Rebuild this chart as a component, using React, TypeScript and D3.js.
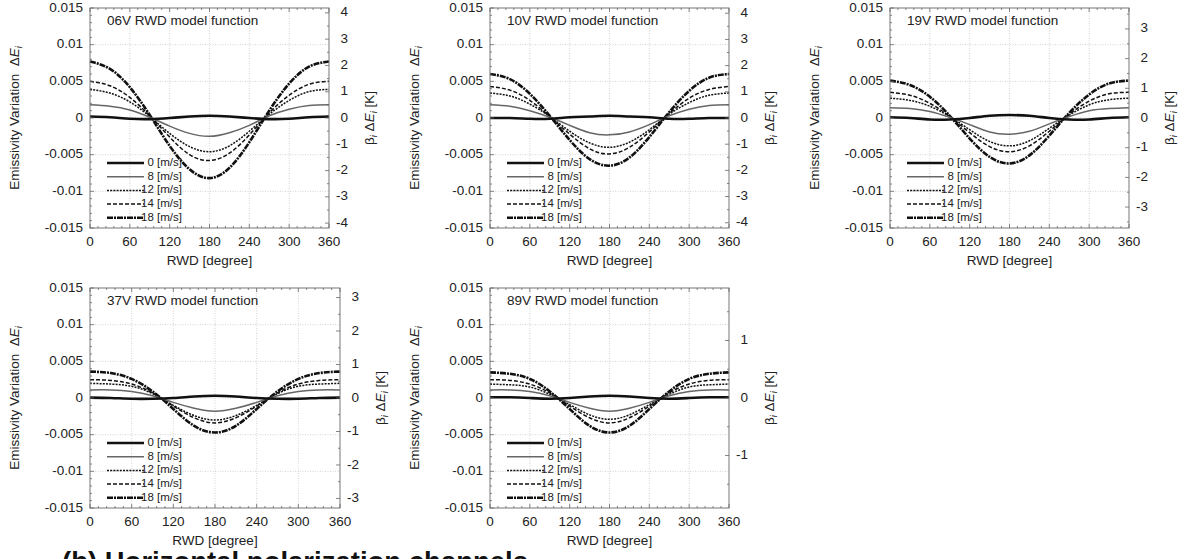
import React from "react";
import * as d3 from "d3";

// ---------- DATA ----------
const angles = [0, 30, 60, 90, 120, 150, 180, 210, 240, 270, 300, 330, 360];
const windLabels = ["0 [m/s]", "8 [m/s]", "12 [m/s]", "14 [m/s]", "18 [m/s]"];
const xTicks = [0, 60, 120, 180, 240, 300, 360];
const yTicks = [-0.015, -0.01, -0.005, 0, 0.005, 0.01, 0.015];
const yTickLabels = ["-0.015", "-0.01", "-0.005", "0", "0.005", "0.01", "0.015"];

const titles = ["06V RWD model function", "10V RWD model function", "19V RWD model function", "37V RWD model function", "89V RWD model function"];
const betas = [279, 280, 247, 219, 127.5];
const rightTicks06 = [-4, -3, -2, -1, 0, 1, 2, 3, 4];
const rightTicks10 = [-4, -3, -2, -1, 0, 1, 2, 3, 4];
const rightTicks19 = [-3, -2, -1, 0, 1, 2, 3];
const rightTicks37 = [-3, -2, -1, 0, 1, 2, 3];
const rightTicks89 = [-1, 0, 1];

// rows: 0, 8, 12, 14, 18 m/s
const v06 = [
  [0.0002, 0.0001, -0.0001, -0.00015, 0, 0.0002, 0.0003, 0.0002, 0, -0.00015, -0.0001, 0.0001, 0.0002],
  [0.0018, 0.0016, 0.0011, 0.0001, -0.0011, -0.0021, -0.0025, -0.002, -0.001, 0.0003, 0.0012, 0.0017, 0.0018],
  [0.0039, 0.0034, 0.0022, 0.0002, -0.0021, -0.0039, -0.0046, -0.0038, -0.0018, 0.0005, 0.0024, 0.0036, 0.0039],
  [0.005, 0.0044, 0.0028, 0.0003, -0.0026, -0.005, -0.0058, -0.0048, -0.0023, 0.0007, 0.0031, 0.0046, 0.005],
  [0.0077, 0.0067, 0.0042, 0.0004, -0.0038, -0.007, -0.0082, -0.0068, -0.0033, 0.001, 0.0047, 0.007, 0.0077],
];
const v10 = [
  [0, 0, -0.0001, -0.0001, 0.0001, 0.0002, 0.0003, 0.0002, 0.0001, -0.0001, -0.0001, 0, 0],
  [0.0018, 0.0016, 0.001, 0.0001, -0.001, -0.002, -0.0023, -0.0019, -0.0009, 0.0003, 0.0012, 0.0017, 0.0018],
  [0.0034, 0.003, 0.0019, 0.0002, -0.0018, -0.0034, -0.004, -0.0033, -0.0016, 0.0005, 0.0021, 0.0031, 0.0034],
  [0.0043, 0.0038, 0.0024, 0.0002, -0.0022, -0.0042, -0.0049, -0.004, -0.0019, 0.0006, 0.0027, 0.0039, 0.0043],
  [0.006, 0.0053, 0.0033, 0.0003, -0.003, -0.0056, -0.0065, -0.0054, -0.0026, 0.0008, 0.0037, 0.0055, 0.006],
];
const v19 = [
  [0.0001, 0, -0.0002, -0.0002, 0, 0.0003, 0.0004, 0.0003, 0, -0.0002, -0.0002, 0, 0.0001],
  [0.0014, 0.0013, 0.0009, 0.0001, -0.0009, -0.0019, -0.0022, -0.0018, -0.0008, 0.0002, 0.001, 0.0013, 0.0014],
  [0.0027, 0.0024, 0.0016, 0.0002, -0.0016, -0.0032, -0.0038, -0.0031, -0.0014, 0.0004, 0.0018, 0.0025, 0.0027],
  [0.0035, 0.0031, 0.002, 0.0002, -0.002, -0.0039, -0.0046, -0.0038, -0.0018, 0.0005, 0.0023, 0.0033, 0.0035],
  [0.0051, 0.0045, 0.0029, 0.0003, -0.0028, -0.0053, -0.0062, -0.0051, -0.0024, 0.0007, 0.0032, 0.0047, 0.0051],
];
const v37 = [
  [0.00005, 0, -0.0001, -0.0001, 0, 0.0002, 0.0003, 0.0002, 0, -0.0001, -0.0001, 0, 0.00005],
  [0.0011, 0.0011, 0.0009, 0.0003, -0.0006, -0.0014, -0.0018, -0.0014, -0.0006, 0.0003, 0.0009, 0.0011, 0.0011],
  [0.002, 0.0019, 0.0016, 0.0006, -0.001, -0.0024, -0.003, -0.0024, -0.001, 0.0006, 0.0016, 0.0019, 0.002],
  [0.0025, 0.0024, 0.0019, 0.0007, -0.0011, -0.0027, -0.0034, -0.0027, -0.0011, 0.0007, 0.0019, 0.0024, 0.0025],
  [0.0036, 0.0034, 0.0026, 0.0009, -0.0015, -0.0038, -0.0047, -0.0038, -0.0015, 0.0009, 0.0026, 0.0034, 0.0036],
];
const v89 = [
  [0.0001, 0.0001, 0, -0.0001, 0, 0.0002, 0.0003, 0.0002, 0, -0.0001, 0, 0.0001, 0.0001],
  [0.0011, 0.0011, 0.0009, 0.0003, -0.0006, -0.0014, -0.0018, -0.0014, -0.0006, 0.0003, 0.0009, 0.0011, 0.0011],
  [0.0019, 0.0018, 0.0015, 0.0005, -0.0009, -0.0023, -0.0029, -0.0023, -0.0009, 0.0005, 0.0015, 0.0018, 0.0019],
  [0.0025, 0.0024, 0.0019, 0.0007, -0.0011, -0.0027, -0.0034, -0.0027, -0.0011, 0.0007, 0.0019, 0.0024, 0.0025],
  [0.0035, 0.0033, 0.0026, 0.0009, -0.0015, -0.0038, -0.0047, -0.0038, -0.0015, 0.0009, 0.0026, 0.0033, 0.0035],
];

const caption = "(b) Horizontal polarization channels";

// ---------- STYLE ----------
const FONT = "'Liberation Sans', Arial, Helvetica, sans-serif";
const seriesStyles = [
  { stroke: "#111", width: 2.6, dash: "" },
  { stroke: "#666", width: 1.5, dash: "" },
  { stroke: "#111", width: 1.5, dash: "2,1.2" },
  { stroke: "#111", width: 1.5, dash: "4,2" },
  { stroke: "#111", width: 2.6, dash: "6,1,2,1" },
];

type PanelProps = {
  title: string;
  data: number[][];
  beta: number;
  rTicks: number[];
  x: number;
  y: number;
  w: number;
  h: number;
};

function Panel({ title, data, beta, rTicks, x, y, w, h }: PanelProps) {
  const xs = d3.scaleLinear().domain([0, 360]).range([x, x + w]);
  const ys = d3.scaleLinear().domain([-0.015, 0.015]).range([y + h, y]);
  const R = 0.015 * beta;
  const rs = d3.scaleLinear().domain([-R, R]).range([y + h, y]);
  const line = d3
    .line<number>()
    .x((_, i) => xs(angles[i]))
    .y((d) => ys(d))
    .curve(d3.curveNatural);

  const xMinor = d3.range(0, 361, 12);
  const yMinor = d3.range(-15, 16, 1).map((v) => v / 1000);
  const rMinor = d3.range(Math.ceil(-R * 2), Math.floor(R * 2) + 1).map((v) => v / 2);
  const frame = "#777";
  const tickCol = "#666";
  const midY = y + h / 2;
  const legX0 = x + 17;
  const legX1 = x + 54;
  const legTextX = x + 92;
  const legY0 = y + 155;
  const legStep = 13.7;

  return (
    <g>
      {/* grid */}
      {xTicks.slice(1, -1).map((t) => (
        <line key={"gx" + t} x1={xs(t)} x2={xs(t)} y1={y} y2={y + h} stroke="#c8c8c8" strokeWidth={0.8} strokeDasharray="1,1.5" />
      ))}
      {yTicks.slice(1, -1).map((t) => (
        <line key={"gy" + t} x1={x} x2={x + w} y1={ys(t)} y2={ys(t)} stroke="#c8c8c8" strokeWidth={0.8} strokeDasharray="1,1.5" />
      ))}
      {/* curves */}
      {data
        .map((s, i) => ({ s, i }))
        .reverse()
        .map(({ s, i }) => (
          <path
            key={"c" + i}
            d={line(s) || ""}
            fill="none"
            stroke={seriesStyles[i].stroke}
            strokeWidth={seriesStyles[i].width}
            strokeDasharray={seriesStyles[i].dash || undefined}
          />
        ))}
      {/* frame */}
      <rect x={x} y={y} width={w} height={h} fill="none" stroke={frame} strokeWidth={1} />
      {/* ticks */}
      {xMinor.map((t) => {
        const major = t % 60 === 0;
        const L = major ? 4 : 2;
        return (
          <g key={"xt" + t}>
            <line x1={xs(t)} x2={xs(t)} y1={y + h} y2={y + h - L} stroke={tickCol} strokeWidth={0.8} />
            <line x1={xs(t)} x2={xs(t)} y1={y} y2={y + L} stroke={tickCol} strokeWidth={0.8} />
          </g>
        );
      })}
      {yMinor.map((t, i) => {
        const major = i % 5 === 0;
        const L = major ? 4 : 2;
        return <line key={"yt" + i} x1={x} x2={x + L} y1={ys(t)} y2={ys(t)} stroke={tickCol} strokeWidth={0.8} />;
      })}
      {rMinor.map((t, i) => {
        const major = Number.isInteger(t);
        const L = major ? 4 : 2;
        return <line key={"rt" + i} x1={x + w} x2={x + w - L} y1={rs(t)} y2={rs(t)} stroke={tickCol} strokeWidth={0.8} />;
      })}
      {/* tick labels */}
      {xTicks.map((t) => (
        <text key={"xl" + t} x={xs(t)} y={y + h + 14} textAnchor="middle" dominantBaseline="middle" fontSize={13.5} fill="#222">
          {t}
        </text>
      ))}
      {yTicks.map((t, i) => (
        <text key={"yl" + i} x={x - 7} y={ys(t)} textAnchor="end" dominantBaseline="middle" fontSize={13.5} fill="#222">
          {yTickLabels[i]}
        </text>
      ))}
      {rTicks.map((t) => (
        <text key={"rl" + t} x={x + w + 19} y={rs(t)} textAnchor="end" dominantBaseline="middle" fontSize={13.5} fill="#222">
          {t}
        </text>
      ))}
      {/* axis titles */}
      <text x={x + w / 2} y={y + h + 33} textAnchor="middle" dominantBaseline="middle" fontSize={13.5} fill="#222">
        RWD [degree]
      </text>
      <text transform={`translate(${x - 75},${midY}) rotate(-90)`} textAnchor="middle" dominantBaseline="middle" fontSize={13.5} fill="#222">
        Emissivity Variation{"\u00A0\u00A0"}Δ<tspan fontStyle="italic">E</tspan>
        <tspan fontStyle="italic" fontSize={9.5} dy={4}>i</tspan>
      </text>
      <text transform={`translate(${x + w + 41},${midY}) rotate(-90)`} textAnchor="middle" dominantBaseline="middle" fontSize={13.5} fill="#222">
        β<tspan fontStyle="italic" fontSize={9.5} dy={4}>i</tspan>
        <tspan dy={-4}>{"\u00A0"}Δ</tspan>
        <tspan fontStyle="italic">E</tspan>
        <tspan fontStyle="italic" fontSize={9.5} dy={4}>i</tspan>
        <tspan dy={-4}>{"\u00A0"}[K]</tspan>
      </text>
      {/* title */}
      <text x={x + 17} y={y + 17} fontSize={13.5} fill="#222">
        {title}
      </text>
      {/* legend */}
      {windLabels.map((lab, i) => {
        const ly = legY0 + i * legStep;
        const st = seriesStyles[i];
        return (
          <g key={"lg" + i}>
            <line x1={legX0} x2={legX1} y1={ly} y2={ly} stroke={st.stroke} strokeWidth={st.width} strokeDasharray={st.dash || undefined} />
            <text x={legTextX} y={ly} textAnchor="end" dominantBaseline="middle" fontSize={11.5} fill="#222">
              {lab}
            </text>
          </g>
        );
      })}
    </g>
  );
}

export default function App() {
  const datasets = [v06, v10, v19, v37, v89];
  const rt = [rightTicks06, rightTicks10, rightTicks19, rightTicks37, rightTicks89];
  const px = [90, 490, 890, 90, 490];
  const py = [8, 8, 8, 288, 288];
  const pw = [239, 239, 239, 250, 239];
  return (
    <svg
      width={1184}
      height={559}
      viewBox="0 0 1184 559"
      style={{ position: "absolute", left: 0, top: 0, background: "#fff", fontFamily: FONT }}
    >
      <rect x={0} y={0} width={1184} height={559} fill="#fff" />
      {titles.map((t, i) => (
        <Panel key={t} title={t} data={datasets[i]} beta={betas[i]} rTicks={rt[i]} x={px[i]} y={py[i]} w={pw[i]} h={220} />
      ))}
      <text x={62} y={571} fontSize={27.5} fontWeight="bold" fill="#111">
        {caption}
      </text>
    </svg>
  );
}
